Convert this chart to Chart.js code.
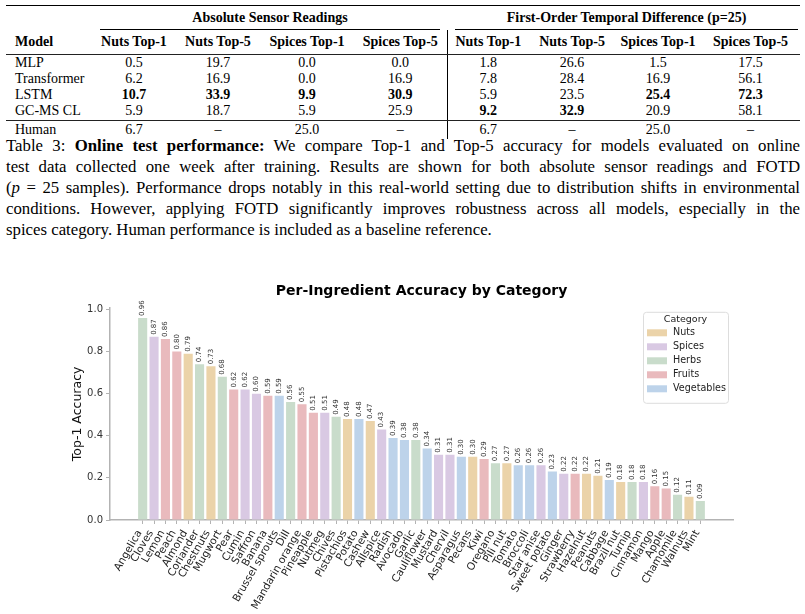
<!DOCTYPE html>
<html>
<head>
<meta charset="utf-8">
<script src="https://cdn.jsdelivr.net/npm/chart.js@4.4.1/dist/chart.umd.min.js"></script>
<style>
  html, body { margin: 0; padding: 0; background: #fff; }
  body { width: 805px; height: 614px; position: relative; overflow: hidden; }
  #res {
    position: absolute; left: 6px; top: 5px; width: 794px;
    border-collapse: collapse; table-layout: fixed;
    font-family: "Liberation Serif", "Times New Roman", serif; font-size: 14px; color: #000;
    border-top: 1.5px solid #000;
  }
  #res td, #res th { padding: 0; text-align: center; white-space: nowrap; }
  #res th { font-weight: bold; }
  #res .l { text-align: left; padding-left: 9px; }
  #res .v { border-left: 1px solid #000; }
  #res tr.grp th { height: 24px; vertical-align: top; }
  #res .cm { line-height: 23px; border-bottom: 1px solid #000; margin: 0 7px 0 8px; }
  #res tr.hdr th { height: 24px; border-bottom: 1px solid #222; }
  #res tr.row td { height: 16px; line-height: 16px; }
  #res tr.row.lastrow td { height: 17px; vertical-align: top; border-bottom: 1px solid #222; }
  #res tr.human td { height: 18px; line-height: 18px; vertical-align: top; }
  #res b { font-weight: bold; }

  .cap {
    position: absolute; left: 6px; top: 135px; width: 794px;
    font-family: "Liberation Serif", "Times New Roman", serif; font-size: 16.8px; line-height: 21px; color: #000;
  }
  .cap .ln { display: inline-block; white-space: nowrap; }

  #chartWrap { position: absolute; left: 0; top: 250px; width: 805px; height: 364px; }
</style>
</head>
<body>

<table id="res">
  <colgroup>
    <col style="width:86px"><col style="width:84px"><col style="width:84px"><col style="width:94px"><col style="width:93px">
    <col style="width:82px"><col style="width:86px"><col style="width:86px"><col style="width:99px">
  </colgroup>
  <tr class="grp">
    <th></th>
    <th colspan="4"><div class="cm">Absolute Sensor Readings</div></th>
    <th colspan="4"><div class="cm" style="margin-right:2px">First-Order Temporal Difference (p=25)</div></th>
  </tr>
  <tr class="hdr">
    <th class="l">Model</th>
    <th>Nuts Top-1</th><th>Nuts Top-5</th><th>Spices Top-1</th><th>Spices Top-5</th>
    <th class="v">Nuts Top-1</th><th>Nuts Top-5</th><th>Spices Top-1</th><th>Spices Top-5</th>
  </tr>
  <tr class="row">
    <td class="l">MLP</td><td>0.5</td><td>19.7</td><td>0.0</td><td>0.0</td>
    <td class="v">1.8</td><td>26.6</td><td>1.5</td><td>17.5</td>
  </tr>
  <tr class="row">
    <td class="l">Transformer</td><td>6.2</td><td>16.9</td><td>0.0</td><td>16.9</td>
    <td class="v">7.8</td><td>28.4</td><td>16.9</td><td>56.1</td>
  </tr>
  <tr class="row">
    <td class="l">LSTM</td><td><b>10.7</b></td><td><b>33.9</b></td><td><b>9.9</b></td><td><b>30.9</b></td>
    <td class="v">5.9</td><td>23.5</td><td><b>25.4</b></td><td><b>72.3</b></td>
  </tr>
  <tr class="row lastrow">
    <td class="l">GC-MS CL</td><td>5.9</td><td>18.7</td><td>5.9</td><td>25.9</td>
    <td class="v"><b>9.2</b></td><td><b>32.9</b></td><td>20.9</td><td>58.1</td>
  </tr>
  <tr class="human">
    <td class="l">Human</td><td>6.7</td><td>–</td><td>25.0</td><td>–</td>
    <td class="v">6.7</td><td>–</td><td>25.0</td><td>–</td>
  </tr>
</table>

<div class="cap">
  <span class="ln">Table 3: <b>Online test performance:</b> We compare Top-1 and Top-5 accuracy for models evaluated on online</span><br>
  <span class="ln">test data collected one week after training. Results are shown for both absolute sensor readings and FOTD</span><br>
  <span class="ln">(<i>p</i> = 25 samples). Performance drops notably in this real-world setting due to distribution shifts in environmental</span><br>
  <span class="ln">conditions. However, applying FOTD significantly improves robustness across all models, especially in the</span><br>
  <span class="ln last">spices category. Human performance is included as a baseline reference.</span>
</div>

<div id="chartWrap"><canvas id="accChart" width="805" height="364"></canvas></div>

<script>
// Chart data
const ingredients = [
  'Angelica', 'Cloves', 'Lemon', 'Peach', 'Almond', 'Coriander', 'Chestnuts', 'Mugwort', 'Pear', 'Cumin',
  'Saffron', 'Banana', 'Brussel sprouts', 'Dill', 'Mandarin orange', 'Pineapple', 'Nutmeg', 'Chives', 'Pistachios', 'Potato',
  'Cashew', 'Allspice', 'Radish', 'Avocado', 'Garlic', 'Cauliflower', 'Mustard', 'Chervil', 'Asparagus', 'Pecans',
  'Kiwi', 'Oregano', 'Pili nut', 'Tomato', 'Broccoli', 'Star anise', 'Sweet potato', 'Ginger', 'Strawberry', 'Hazelnut',
  'Peanuts', 'Cabbage', 'Brazil nut', 'Turnip', 'Cinnamon', 'Mango', 'Apple', 'Chamomile', 'Walnuts', 'Mint',
];
const accuracy = [
  0.96, 0.87, 0.86, 0.80, 0.79, 0.74, 0.73, 0.68, 0.62, 0.62,
  0.60, 0.59, 0.59, 0.56, 0.55, 0.51, 0.51, 0.49, 0.48, 0.48,
  0.47, 0.43, 0.39, 0.38, 0.38, 0.34, 0.31, 0.31, 0.30, 0.30,
  0.29, 0.27, 0.27, 0.26, 0.26, 0.26, 0.23, 0.22, 0.22, 0.22,
  0.21, 0.19, 0.18, 0.18, 0.18, 0.16, 0.15, 0.12, 0.11, 0.09,
];
const ingredientCategory = [
  'Herbs', 'Spices', 'Fruits', 'Fruits', 'Nuts', 'Herbs', 'Nuts', 'Herbs', 'Fruits', 'Spices',
  'Spices', 'Fruits', 'Vegetables', 'Herbs', 'Fruits', 'Fruits', 'Spices', 'Herbs', 'Nuts', 'Vegetables',
  'Nuts', 'Spices', 'Vegetables', 'Vegetables', 'Herbs', 'Vegetables', 'Spices', 'Spices', 'Vegetables', 'Nuts',
  'Fruits', 'Herbs', 'Nuts', 'Vegetables', 'Vegetables', 'Spices', 'Vegetables', 'Spices', 'Fruits', 'Nuts',
  'Nuts', 'Vegetables', 'Nuts', 'Herbs', 'Spices', 'Fruits', 'Fruits', 'Herbs', 'Nuts', 'Herbs',
];
const categories = ['Nuts', 'Spices', 'Herbs', 'Fruits', 'Vegetables'];
const categoryColors = ['#ebd3a9', '#d9c9e3', '#c9dccb', '#e9babd', '#bdd3ea'];
const yTicks = [0.0, 0.2, 0.4, 0.6, 0.8, 1.0];

const FONT = '"DejaVu Sans", sans-serif';

/**
 * Stretch each caption line (except the last) to the full text width
 */
function justifyCaption() {
  document.querySelectorAll('.cap .ln').forEach((el) => {
    if (el.classList.contains('last')) return;
    const w = el.getBoundingClientRect().width;
    const spaces = (el.textContent.match(/ /g) || []).length;
    if (spaces > 0) el.style.wordSpacing = ((794 - w) / spaces) + 'px';
  });
}

// Rotated value labels above each bar
const valueLabels = {
  id: 'valueLabels',
  afterDatasetsDraw(chart) {
    const { ctx } = chart;
    const meta = chart.getDatasetMeta(0);
    ctx.save();
    ctx.font = '7px ' + FONT;
    ctx.fillStyle = '#333';
    ctx.textAlign = 'left';
    ctx.textBaseline = 'middle';
    meta.data.forEach((bar, i) => {
      ctx.save();
      ctx.translate(bar.x, bar.y - 2);
      ctx.rotate(-Math.PI / 2);
      ctx.fillText(accuracy[i].toFixed(2), 0, 0);
      ctx.restore();
    });
    ctx.restore();
  },
};

// Legend box drawn inside the plot area (top right)
const categoryLegend = {
  id: 'categoryLegend',
  afterDraw(chart) {
    const { ctx, chartArea } = chart;
    const w = 85, h = 91;
    const x = chartArea.right - 5 - w;
    const y = chartArea.top + 4;
    ctx.save();
    ctx.fillStyle = 'rgba(255,255,255,0.8)';
    ctx.strokeStyle = '#dddddd';
    ctx.lineWidth = 1;
    ctx.beginPath();
    ctx.roundRect(x + 0.5, y + 0.5, w, h, 3);
    ctx.fill();
    ctx.stroke();

    ctx.fillStyle = '#222';
    ctx.font = '9.5px ' + FONT;
    ctx.textBaseline = 'middle';
    ctx.textAlign = 'center';
    ctx.fillText('Category', x + w / 2, y + 8);

    ctx.textAlign = 'left';
    ctx.font = '9.6px ' + FONT;
    categories.forEach((name, i) => {
      const cy = y + 21 + i * 14;
      ctx.fillStyle = categoryColors[i];
      ctx.fillRect(x + 4, cy - 3.5, 20, 7);
      ctx.fillStyle = '#222';
      ctx.fillText(name, x + 30, cy);
    });
    ctx.restore();
  },
};

function initChart() {
  const ctx = document.getElementById('accChart').getContext('2d');
  const axisColor = '#b3b3b3';

  new Chart(ctx, {
    type: 'bar',
    data: {
      datasets: [
        {
          data: accuracy.map((v, i) => ({ x: i, y: v })),
          backgroundColor: ingredientCategory.map((c) => categoryColors[categories.indexOf(c)]),
          borderWidth: 0,
          barPercentage: 0.8,
          categoryPercentage: 1.0,
        },
      ],
    },
    options: {
      responsive: false,
      animation: false,
      layout: { padding: { left: 0, right: 72, top: 0, bottom: 0 } },
      plugins: {
        legend: { display: false },
        tooltip: { enabled: false },
        title: {
          display: true,
          text: 'Per-Ingredient Accuracy by Category',
          fullSize: false,
          color: '#000',
          font: { family: FONT, size: 14, weight: 'bold' },
          padding: { top: 33, bottom: 8 },
        },
      },
      scales: {
        x: {
          type: 'linear',
          min: -2.87,
          max: 51.87,
          offset: false,
          grid: { display: true, offset: false, drawOnChartArea: false, tickLength: 4, color: axisColor, lineWidth: 1 },
          border: { color: axisColor, width: 1.5 },
          afterBuildTicks: (scale) => {
            scale.ticks = ingredients.map((_, i) => ({ value: i }));
          },
          afterFit: (scale) => {
            scale.height = 94;
          },
          ticks: {
            autoSkip: false,
            minRotation: 60,
            maxRotation: 60,
            padding: 4,
            labelOffset: -3,
            color: '#222',
            font: { family: FONT, size: 10.5 },
            callback: (value) => ingredients[value],
          },
        },
        y: {
          min: 0,
          max: 1.008,
          grid: { display: true, drawOnChartArea: false, tickLength: 4, color: axisColor, lineWidth: 1 },
          border: { color: axisColor, width: 1.5 },
          afterBuildTicks: (scale) => {
            scale.ticks = yTicks.map((v) => ({ value: v }));
          },
          afterFit: (scale) => {
            scale.width = 110;
          },
          ticks: {
            padding: 3,
            color: '#333',
            font: { family: FONT, size: 10 },
            callback: (value) => value.toFixed(1),
          },
          title: {
            display: true,
            text: 'Top-1 Accuracy',
            color: '#111',
            font: { family: FONT, size: 12.5 },
            padding: { top: 70, bottom: 0 },
          },
        },
      },
    },
    plugins: [valueLabels, categoryLegend],
  });
}

justifyCaption();
initChart();
</script>
</body>
</html>
